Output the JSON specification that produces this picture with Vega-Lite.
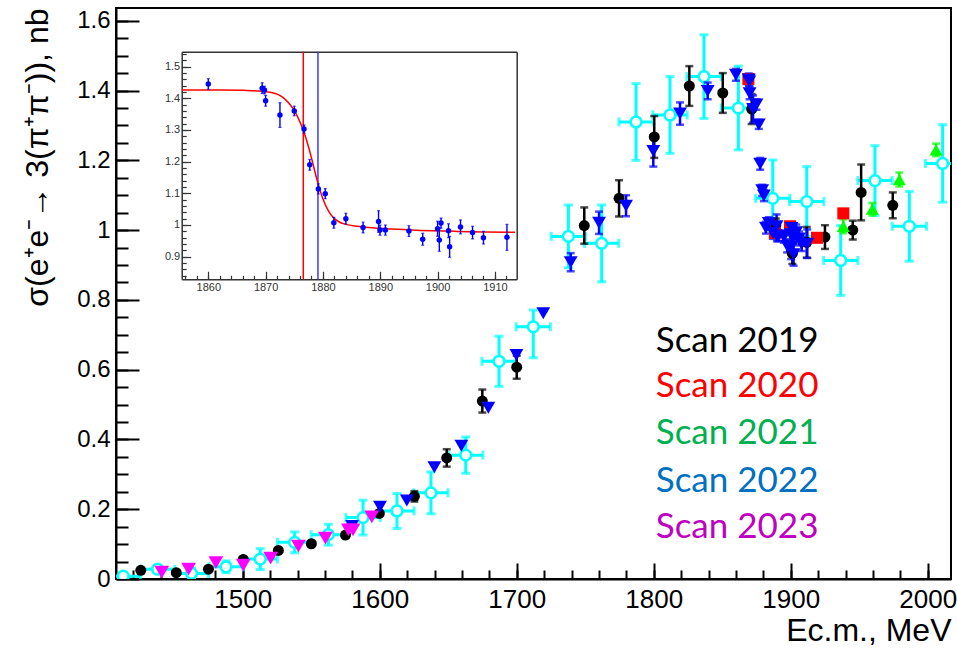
{
  "$schema": "https://vega.github.io/schema/vega-lite/v6.json",
  "width": 835,
  "height": 571,
  "autosize": {"type": "none"},
  "padding": {"left": 116, "top": 8, "right": 6, "bottom": 74},
  "background": "white",
  "config": {
    "view": {"stroke": "#000000", "strokeWidth": 2},
    "axis": {"labelFont": "Liberation Sans", "titleFont": "Liberation Sans", "grid": false, "labelFlush": false, "labelOverlap": false}
  },
  "datasets": {
    "cyan": [
      {"x": 1412.8, "y": 0.008, "ylo": -0.002, "yhi": 0.018, "xlo": 1400.3, "xhi": 1425.3},
      {"x": 1437.9, "y": 0.028, "ylo": 0.018, "yhi": 0.038, "xlo": 1425.4, "xhi": 1450.4},
      {"x": 1462.6, "y": 0.016, "ylo": 0.001, "yhi": 0.031, "xlo": 1450.1, "xhi": 1475.1},
      {"x": 1487.8, "y": 0.035, "ylo": 0.018, "yhi": 0.052, "xlo": 1475.3, "xhi": 1500.3},
      {"x": 1512.8, "y": 0.057, "ylo": 0.027, "yhi": 0.087, "xlo": 1500.3, "xhi": 1525.3},
      {"x": 1537.9, "y": 0.105, "ylo": 0.075, "yhi": 0.135, "xlo": 1525.4, "xhi": 1550.4},
      {"x": 1562.5, "y": 0.127, "ylo": 0.097, "yhi": 0.157, "xlo": 1550.0, "xhi": 1575.0},
      {"x": 1587.8, "y": 0.176, "ylo": 0.126, "yhi": 0.226, "xlo": 1575.3, "xhi": 1600.3},
      {"x": 1612.6, "y": 0.195, "ylo": 0.145, "yhi": 0.245, "xlo": 1600.1, "xhi": 1625.1},
      {"x": 1637.4, "y": 0.247, "ylo": 0.187, "yhi": 0.307, "xlo": 1624.9, "xhi": 1649.9},
      {"x": 1662.8, "y": 0.355, "ylo": 0.303, "yhi": 0.407, "xlo": 1650.3, "xhi": 1675.3},
      {"x": 1687.1, "y": 0.624, "ylo": 0.552, "yhi": 0.696, "xlo": 1674.6, "xhi": 1699.6},
      {"x": 1712.1, "y": 0.723, "ylo": 0.634, "yhi": 0.771, "xlo": 1699.6, "xhi": 1724.6},
      {"x": 1737.7, "y": 0.982, "ylo": 0.892, "yhi": 1.072, "xlo": 1725.2, "xhi": 1750.2},
      {"x": 1762.0, "y": 0.962, "ylo": 0.852, "yhi": 1.072, "xlo": 1749.5, "xhi": 1774.5},
      {"x": 1787.1, "y": 1.310, "ylo": 1.200, "yhi": 1.420, "xlo": 1774.6, "xhi": 1799.6},
      {"x": 1811.9, "y": 1.330, "ylo": 1.220, "yhi": 1.440, "xlo": 1799.4, "xhi": 1824.4},
      {"x": 1836.7, "y": 1.440, "ylo": 1.320, "yhi": 1.560, "xlo": 1824.2, "xhi": 1849.2},
      {"x": 1861.8, "y": 1.350, "ylo": 1.230, "yhi": 1.470, "xlo": 1849.3, "xhi": 1874.3},
      {"x": 1886.9, "y": 1.091, "ylo": 0.981, "yhi": 1.201, "xlo": 1874.4, "xhi": 1899.4},
      {"x": 1911.7, "y": 1.082, "ylo": 0.982, "yhi": 1.182, "xlo": 1899.2, "xhi": 1924.2},
      {"x": 1936.5, "y": 0.913, "ylo": 0.813, "yhi": 1.013, "xlo": 1924.0, "xhi": 1949.0},
      {"x": 1961.5, "y": 1.142, "ylo": 1.042, "yhi": 1.242, "xlo": 1949.0, "xhi": 1974.0},
      {"x": 1986.6, "y": 1.011, "ylo": 0.911, "yhi": 1.111, "xlo": 1974.1, "xhi": 1999.1},
      {"x": 2010.9, "y": 1.191, "ylo": 1.080, "yhi": 1.302, "xlo": 1998.4, "xhi": 2023.4}
    ],
    "pts": [
      {"s": "2019", "x": 1425.6, "y": 0.025},
      {"s": "2019", "x": 1451.5, "y": 0.018},
      {"s": "2019", "x": 1475.0, "y": 0.028},
      {"s": "2019", "x": 1500.4, "y": 0.056},
      {"s": "2019", "x": 1526.0, "y": 0.082},
      {"s": "2019", "x": 1550.1, "y": 0.101},
      {"s": "2019", "x": 1575.0, "y": 0.126},
      {"s": "2019", "x": 1599.7, "y": 0.188},
      {"s": "2019", "x": 1625.3, "y": 0.237, "lo": 0.222, "hi": 0.252},
      {"s": "2019", "x": 1648.9, "y": 0.347, "lo": 0.322, "hi": 0.372},
      {"s": "2019", "x": 1674.9, "y": 0.510, "lo": 0.477, "hi": 0.543},
      {"s": "2019", "x": 1700.0, "y": 0.607, "lo": 0.574, "hi": 0.640},
      {"s": "2019", "x": 1749.3, "y": 1.013, "lo": 0.961, "hi": 1.065},
      {"s": "2019", "x": 1774.7, "y": 1.091, "lo": 1.039, "hi": 1.143},
      {"s": "2019", "x": 1800.4, "y": 1.267, "lo": 1.207, "hi": 1.327},
      {"s": "2019", "x": 1826.0, "y": 1.413, "lo": 1.356, "hi": 1.470},
      {"s": "2019", "x": 1850.4, "y": 1.393, "lo": 1.336, "hi": 1.450},
      {"s": "2019", "x": 1871.5, "y": 1.347, "lo": 1.304, "hi": 1.390},
      {"s": "2019", "x": 1889.1, "y": 1.013, "lo": 0.993, "hi": 1.033},
      {"s": "2019", "x": 1901.2, "y": 0.933, "lo": 0.903, "hi": 0.963},
      {"s": "2019", "x": 1911.7, "y": 0.965, "lo": 0.921, "hi": 1.009},
      {"s": "2019", "x": 1925.0, "y": 0.980, "lo": 0.946, "hi": 1.014},
      {"s": "2019", "x": 1945.3, "y": 1.000, "lo": 0.973, "hi": 1.027},
      {"s": "2019", "x": 1951.4, "y": 1.108, "lo": 1.028, "hi": 1.188},
      {"s": "2019", "x": 1974.5, "y": 1.071, "lo": 1.034, "hi": 1.108},
      {"s": "2020", "x": 1869.1, "y": 1.433},
      {"s": "2020", "x": 1888.5, "y": 0.992},
      {"s": "2020", "x": 1899.5, "y": 1.011},
      {"s": "2020", "x": 1919.2, "y": 0.978},
      {"s": "2020", "x": 1938.4, "y": 1.048},
      {"s": "2021", "x": 1938.4, "y": 1.011, "lo": 0.991, "hi": 1.031},
      {"s": "2021", "x": 1959.6, "y": 1.060, "lo": 1.042, "hi": 1.078},
      {"s": "2021", "x": 1979.3, "y": 1.145, "lo": 1.125, "hi": 1.165},
      {"s": "2021", "x": 2006.1, "y": 1.230, "lo": 1.212, "hi": 1.248},
      {"s": "2022", "x": 1579.8, "y": 0.152},
      {"s": "2022", "x": 1600.2, "y": 0.207},
      {"s": "2022", "x": 1619.8, "y": 0.225},
      {"s": "2022", "x": 1639.9, "y": 0.320},
      {"s": "2022", "x": 1659.6, "y": 0.382},
      {"s": "2022", "x": 1679.3, "y": 0.491},
      {"s": "2022", "x": 1699.8, "y": 0.642},
      {"s": "2022", "x": 1719.4, "y": 0.762},
      {"s": "2022", "x": 1739.4, "y": 0.908, "lo": 0.882, "hi": 0.934},
      {"s": "2022", "x": 1760.1, "y": 1.021, "lo": 0.989, "hi": 1.053},
      {"s": "2022", "x": 1779.8, "y": 1.070, "lo": 1.040, "hi": 1.100},
      {"s": "2022", "x": 1799.7, "y": 1.227, "lo": 1.182, "hi": 1.272},
      {"s": "2022", "x": 1819.2, "y": 1.334, "lo": 1.302, "hi": 1.366},
      {"s": "2022", "x": 1839.4, "y": 1.399, "lo": 1.375, "hi": 1.423},
      {"s": "2022", "x": 1860.0, "y": 1.445, "lo": 1.428, "hi": 1.462},
      {"s": "2022", "x": 1869.4, "y": 1.432, "lo": 1.415, "hi": 1.449},
      {"s": "2022", "x": 1869.8, "y": 1.426, "lo": 1.414, "hi": 1.438},
      {"s": "2022", "x": 1870.0, "y": 1.392, "lo": 1.375, "hi": 1.409},
      {"s": "2022", "x": 1872.5, "y": 1.347, "lo": 1.308, "hi": 1.386},
      {"s": "2022", "x": 1875.0, "y": 1.360, "lo": 1.345, "hi": 1.375},
      {"s": "2022", "x": 1876.7, "y": 1.303, "lo": 1.290, "hi": 1.316},
      {"s": "2022", "x": 1877.7, "y": 1.190, "lo": 1.173, "hi": 1.207},
      {"s": "2022", "x": 1879.2, "y": 1.114, "lo": 1.098, "hi": 1.130},
      {"s": "2022", "x": 1880.4, "y": 1.099, "lo": 1.083, "hi": 1.115},
      {"s": "2022", "x": 1881.9, "y": 1.007, "lo": 0.990, "hi": 1.024},
      {"s": "2022", "x": 1884.0, "y": 1.020, "lo": 1.003, "hi": 1.037},
      {"s": "2022", "x": 1887.0, "y": 0.992, "lo": 0.975, "hi": 1.009},
      {"s": "2022", "x": 1889.7, "y": 1.011, "lo": 0.977, "hi": 1.045},
      {"s": "2022", "x": 1889.95, "y": 0.984, "lo": 0.968, "hi": 1.000},
      {"s": "2022", "x": 1890.9, "y": 0.984, "lo": 0.968, "hi": 1.000},
      {"s": "2022", "x": 1895.0, "y": 0.981, "lo": 0.964, "hi": 0.998},
      {"s": "2022", "x": 1897.4, "y": 0.955, "lo": 0.936, "hi": 0.974},
      {"s": "2022", "x": 1900.0, "y": 0.988, "lo": 0.964, "hi": 1.012},
      {"s": "2022", "x": 1900.3, "y": 0.953, "lo": 0.917, "hi": 0.989},
      {"s": "2022", "x": 1900.6, "y": 1.006, "lo": 0.990, "hi": 1.022},
      {"s": "2022", "x": 1901.9, "y": 0.982, "lo": 0.960, "hi": 1.004},
      {"s": "2022", "x": 1902.1, "y": 0.931, "lo": 0.898, "hi": 0.964},
      {"s": "2022", "x": 1904.0, "y": 0.994, "lo": 0.972, "hi": 1.016},
      {"s": "2022", "x": 1906.1, "y": 0.976, "lo": 0.956, "hi": 0.996},
      {"s": "2022", "x": 1908.0, "y": 0.960, "lo": 0.940, "hi": 0.980},
      {"s": "2022", "x": 1912.1, "y": 0.961, "lo": 0.920, "hi": 1.002},
      {"s": "2023", "x": 1440.9, "y": 0.020},
      {"s": "2023", "x": 1460.5, "y": 0.028},
      {"s": "2023", "x": 1480.4, "y": 0.047},
      {"s": "2023", "x": 1500.4, "y": 0.040},
      {"s": "2023", "x": 1520.4, "y": 0.060},
      {"s": "2023", "x": 1540.6, "y": 0.094},
      {"s": "2023", "x": 1560.4, "y": 0.117},
      {"s": "2023", "x": 1577.1, "y": 0.141},
      {"s": "2023", "x": 1580.5, "y": 0.141},
      {"s": "2023", "x": 1594.2, "y": 0.178}
    ],
    "ins": [
      {"x": 1860.0, "y": 1.445, "lo": 1.428, "hi": 1.462},
      {"x": 1869.4, "y": 1.432, "lo": 1.415, "hi": 1.449},
      {"x": 1869.8, "y": 1.426, "lo": 1.414, "hi": 1.438},
      {"x": 1870.0, "y": 1.392, "lo": 1.375, "hi": 1.409},
      {"x": 1872.5, "y": 1.347, "lo": 1.308, "hi": 1.386},
      {"x": 1875.0, "y": 1.360, "lo": 1.345, "hi": 1.375},
      {"x": 1876.7, "y": 1.303, "lo": 1.290, "hi": 1.316},
      {"x": 1877.7, "y": 1.190, "lo": 1.173, "hi": 1.207},
      {"x": 1879.2, "y": 1.114, "lo": 1.098, "hi": 1.130},
      {"x": 1880.4, "y": 1.099, "lo": 1.083, "hi": 1.115},
      {"x": 1881.9, "y": 1.007, "lo": 0.990, "hi": 1.024},
      {"x": 1884.0, "y": 1.020, "lo": 1.003, "hi": 1.037},
      {"x": 1887.0, "y": 0.992, "lo": 0.975, "hi": 1.009},
      {"x": 1889.7, "y": 1.011, "lo": 0.977, "hi": 1.045},
      {"x": 1889.95, "y": 0.984, "lo": 0.968, "hi": 1.000},
      {"x": 1890.9, "y": 0.984, "lo": 0.968, "hi": 1.000},
      {"x": 1895.0, "y": 0.981, "lo": 0.964, "hi": 0.998},
      {"x": 1897.4, "y": 0.955, "lo": 0.936, "hi": 0.974},
      {"x": 1900.0, "y": 0.988, "lo": 0.964, "hi": 1.012},
      {"x": 1900.3, "y": 0.953, "lo": 0.917, "hi": 0.989},
      {"x": 1900.6, "y": 1.006, "lo": 0.990, "hi": 1.022},
      {"x": 1901.9, "y": 0.982, "lo": 0.960, "hi": 1.004},
      {"x": 1902.1, "y": 0.931, "lo": 0.898, "hi": 0.964},
      {"x": 1904.0, "y": 0.994, "lo": 0.972, "hi": 1.016},
      {"x": 1906.1, "y": 0.976, "lo": 0.956, "hi": 0.996},
      {"x": 1908.0, "y": 0.960, "lo": 0.940, "hi": 0.980},
      {"x": 1912.1, "y": 0.961, "lo": 0.920, "hi": 1.002}
    ],
    "curve": [
      {"x": 1855.4, "y": 1.426}, {"x": 1862, "y": 1.426}, {"x": 1866, "y": 1.425}, {"x": 1869, "y": 1.423},
      {"x": 1871, "y": 1.418}, {"x": 1872, "y": 1.413}, {"x": 1873, "y": 1.403}, {"x": 1874, "y": 1.386},
      {"x": 1875, "y": 1.361}, {"x": 1876, "y": 1.325}, {"x": 1877, "y": 1.276}, {"x": 1878, "y": 1.212},
      {"x": 1879, "y": 1.140}, {"x": 1880, "y": 1.082}, {"x": 1881, "y": 1.043}, {"x": 1882, "y": 1.020},
      {"x": 1883, "y": 1.008}, {"x": 1884, "y": 1.002}, {"x": 1886, "y": 0.996}, {"x": 1888, "y": 0.992},
      {"x": 1892, "y": 0.987}, {"x": 1897, "y": 0.983}, {"x": 1903, "y": 0.980}, {"x": 1908, "y": 0.978},
      {"x": 1913.5, "y": 0.977}
    ],
    "leg": [
      {"lab": "Scan 2019", "x": 1801.5, "y": 0.6495},
      {"lab": "Scan 2020", "x": 1801.5, "y": 0.5207},
      {"lab": "Scan 2021", "x": 1801.5, "y": 0.3877},
      {"lab": "Scan 2022", "x": 1801.5, "y": 0.2504},
      {"lab": "Scan 2023", "x": 1801.5, "y": 0.1173}
    ]
  },
  "layer": [
    {
      "layer": [
        {
          "data": {"name": "pts"},
          "mark": {"type": "point", "opacity": 0},
          "encoding": {
            "x": {"field": "x", "type": "quantitative", "scale": {"domain": [1407.5, 2017], "nice": false, "zero": false},
              "axis": {"orient": "bottom", "values": [1500, 1600, 1700, 1800, 1900, 2000], "format": "d", "tickSize": -16, "tickWidth": 2, "tickColor": "#000000", "domainColor": "#000000", "domainWidth": 2, "labelFontSize": 26, "labelColor": "#000000", "labelPadding": 23, "title": "Ec.m., MeV", "titleFontSize": 32, "titleFontWeight": "normal", "titleColor": "#000000", "titleAnchor": "end", "titlePadding": 3}},
            "y": {"field": "y", "type": "quantitative", "scale": {"domain": [0, 1.6366], "nice": false, "zero": false},
              "axis": {"orient": "left", "values": [0, 0.2, 0.4, 0.6, 0.8, 1, 1.2, 1.4, 1.6], "format": "~g", "tickSize": -23, "tickWidth": 2, "tickColor": "#000000", "domainColor": "#000000", "domainWidth": 2, "labelFontSize": 24, "labelColor": "#000000", "labelPadding": 29, "title": "σ(e⁺e⁻→ 3(π⁺π⁻)), nb", "titleFontSize": 32, "titleFontWeight": "normal", "titleColor": "#000000", "titleAnchor": "end", "titlePadding": 22}}
          }
        },
        {
          "data": {"name": "pts"},
          "mark": {"type": "point", "opacity": 0},
          "encoding": {
            "x": {"field": "x", "type": "quantitative", "scale": {"domain": [1407.5, 2017], "nice": false, "zero": false},
              "axis": {"orient": "bottom", "values": [1420, 1440, 1460, 1480, 1500, 1520, 1540, 1560, 1580, 1600, 1620, 1640, 1660, 1680, 1700, 1720, 1740, 1760, 1780, 1800, 1820, 1840, 1860, 1880, 1900, 1920, 1940, 1960, 1980, 2000], "tickSize": -9, "tickWidth": 2, "tickColor": "#000000", "domain": false, "labels": false, "title": null}},
            "y": {"field": "y", "type": "quantitative", "scale": {"domain": [0, 1.6366], "nice": false, "zero": false},
              "axis": {"orient": "left", "values": [0.05, 0.1, 0.15, 0.2, 0.25, 0.3, 0.35, 0.4, 0.45, 0.5, 0.55, 0.6, 0.65, 0.7, 0.75, 0.8, 0.85, 0.9, 0.95, 1, 1.05, 1.1, 1.15, 1.2, 1.25, 1.3, 1.35, 1.4, 1.45, 1.5, 1.55, 1.6], "tickSize": -12, "tickWidth": 2, "tickColor": "#000000", "domain": false, "labels": false, "title": null}}
          }
        },
        {
          "data": {"name": "cyan"},
          "mark": {"type": "rule", "stroke": "#00ffff", "strokeWidth": 3, "clip": true},
          "encoding": {
            "x": {"field": "x", "type": "quantitative", "scale": {"domain": [1407.5, 2017], "nice": false, "zero": false}, "axis": null},
            "y": {"field": "ylo", "type": "quantitative", "scale": {"domain": [0, 1.6366], "nice": false, "zero": false}, "axis": null},
            "y2": {"field": "yhi"}
          }
        },
        {
          "data": {"name": "cyan"},
          "mark": {"type": "rule", "stroke": "#00ffff", "strokeWidth": 3, "clip": true},
          "encoding": {
            "x": {"field": "xlo", "type": "quantitative", "scale": {"domain": [1407.5, 2017], "nice": false, "zero": false}, "axis": null},
            "x2": {"field": "xhi"},
            "y": {"field": "y", "type": "quantitative", "scale": {"domain": [0, 1.6366], "nice": false, "zero": false}, "axis": null}
          }
        },
        {
          "data": {"name": "cyan"},
          "mark": {"type": "tick", "orient": "horizontal", "size": 9, "thickness": 3, "color": "#00ffff", "clip": true},
          "encoding": {
            "x": {"field": "x", "type": "quantitative", "scale": {"domain": [1407.5, 2017], "nice": false, "zero": false}, "axis": null},
            "y": {"field": "ylo", "type": "quantitative", "scale": {"domain": [0, 1.6366], "nice": false, "zero": false}, "axis": null}
          }
        },
        {
          "data": {"name": "cyan"},
          "mark": {"type": "tick", "orient": "horizontal", "size": 9, "thickness": 3, "color": "#00ffff", "clip": true},
          "encoding": {
            "x": {"field": "x", "type": "quantitative", "scale": {"domain": [1407.5, 2017], "nice": false, "zero": false}, "axis": null},
            "y": {"field": "yhi", "type": "quantitative", "scale": {"domain": [0, 1.6366], "nice": false, "zero": false}, "axis": null}
          }
        },
        {
          "data": {"name": "cyan"},
          "mark": {"type": "tick", "orient": "vertical", "size": 9, "thickness": 3, "color": "#00ffff", "clip": true},
          "encoding": {
            "x": {"field": "xlo", "type": "quantitative", "scale": {"domain": [1407.5, 2017], "nice": false, "zero": false}, "axis": null},
            "y": {"field": "y", "type": "quantitative", "scale": {"domain": [0, 1.6366], "nice": false, "zero": false}, "axis": null}
          }
        },
        {
          "data": {"name": "cyan"},
          "mark": {"type": "tick", "orient": "vertical", "size": 9, "thickness": 3, "color": "#00ffff", "clip": true},
          "encoding": {
            "x": {"field": "xhi", "type": "quantitative", "scale": {"domain": [1407.5, 2017], "nice": false, "zero": false}, "axis": null},
            "y": {"field": "y", "type": "quantitative", "scale": {"domain": [0, 1.6366], "nice": false, "zero": false}, "axis": null}
          }
        },
        {
          "data": {"name": "cyan"},
          "mark": {"type": "point", "filled": true, "fill": "#ffffff", "stroke": "#00ffff", "strokeWidth": 2.5, "size": 115, "opacity": 1, "clip": true},
          "encoding": {
            "x": {"field": "x", "type": "quantitative", "scale": {"domain": [1407.5, 2017], "nice": false, "zero": false}, "axis": null},
            "y": {"field": "y", "type": "quantitative", "scale": {"domain": [0, 1.6366], "nice": false, "zero": false}, "axis": null}
          }
        },
        {
          "data": {"name": "pts"},
          "transform": [{"filter": "isValid(datum.lo)"}],
          "mark": {"type": "rule", "strokeWidth": 2.5, "clip": true},
          "encoding": {
            "x": {"field": "x", "type": "quantitative", "scale": {"domain": [1407.5, 2017], "nice": false, "zero": false}, "axis": null},
            "y": {"field": "lo", "type": "quantitative", "scale": {"domain": [0, 1.6366], "nice": false, "zero": false}, "axis": null},
            "y2": {"field": "hi"},
            "stroke": {"field": "s", "type": "nominal", "scale": {"domain": ["2019", "2020", "2021", "2022", "2023"], "range": ["#000000", "#ff0000", "#00ff00", "#0000ff", "#ff00ff"]}, "legend": null}
          }
        },
        {
          "data": {"name": "pts"},
          "transform": [{"filter": "isValid(datum.lo)"}],
          "mark": {"type": "tick", "orient": "horizontal", "size": 8, "thickness": 2.5, "clip": true},
          "encoding": {
            "x": {"field": "x", "type": "quantitative", "scale": {"domain": [1407.5, 2017], "nice": false, "zero": false}, "axis": null},
            "y": {"field": "lo", "type": "quantitative", "scale": {"domain": [0, 1.6366], "nice": false, "zero": false}, "axis": null},
            "fill": {"field": "s", "type": "nominal", "scale": {"domain": ["2019", "2020", "2021", "2022", "2023"], "range": ["#000000", "#ff0000", "#00ff00", "#0000ff", "#ff00ff"]}, "legend": null}
          }
        },
        {
          "data": {"name": "pts"},
          "transform": [{"filter": "isValid(datum.lo)"}],
          "mark": {"type": "tick", "orient": "horizontal", "size": 8, "thickness": 2.5, "clip": true},
          "encoding": {
            "x": {"field": "x", "type": "quantitative", "scale": {"domain": [1407.5, 2017], "nice": false, "zero": false}, "axis": null},
            "y": {"field": "hi", "type": "quantitative", "scale": {"domain": [0, 1.6366], "nice": false, "zero": false}, "axis": null},
            "fill": {"field": "s", "type": "nominal", "scale": {"domain": ["2019", "2020", "2021", "2022", "2023"], "range": ["#000000", "#ff0000", "#00ff00", "#0000ff", "#ff00ff"]}, "legend": null}
          }
        },
        {
          "data": {"name": "pts"},
          "mark": {"type": "point", "filled": true, "opacity": 1, "strokeWidth": 0, "clip": true},
          "encoding": {
            "x": {"field": "x", "type": "quantitative", "scale": {"domain": [1407.5, 2017], "nice": false, "zero": false}, "axis": null},
            "y": {"field": "y", "type": "quantitative", "scale": {"domain": [0, 1.6366], "nice": false, "zero": false}, "axis": null},
            "fill": {"field": "s", "type": "nominal", "scale": {"domain": ["2019", "2020", "2021", "2022", "2023"], "range": ["#000000", "#ff0000", "#00ff00", "#0000ff", "#ff00ff"]}, "legend": null},
            "shape": {"field": "s", "type": "nominal", "scale": {"domain": ["2019", "2020", "2021", "2022", "2023"], "range": ["circle", "square", "triangle-up", "triangle-down", "triangle-down"]}, "legend": null},
            "size": {"field": "s", "type": "ordinal", "scale": {"domain": ["2019", "2020", "2021", "2022", "2023"], "range": [121, 216, 185, 169, 169]}, "legend": null}
          }
        },
        {
          "data": {"name": "leg"},
          "mark": {"type": "text", "align": "left", "baseline": "alphabetic", "font": "Lato", "fontSize": 35},
          "encoding": {
            "x": {"field": "x", "type": "quantitative", "scale": {"domain": [1407.5, 2017], "nice": false, "zero": false}, "axis": null},
            "y": {"field": "y", "type": "quantitative", "scale": {"domain": [0, 1.6366], "nice": false, "zero": false}, "axis": null},
            "text": {"field": "lab"},
            "color": {"field": "lab", "type": "nominal", "scale": {"domain": ["Scan 2019", "Scan 2020", "Scan 2021", "Scan 2022", "Scan 2023"], "range": ["#000000", "#ff0000", "#00b050", "#0070c0", "#c000c0"]}, "legend": null}
          }
        }
      ],
      "resolve": {"axis": {"x": "independent", "y": "independent"}}
    },
    {
      "layer": [
        {
          "data": {"name": "ins"},
          "mark": {"type": "point", "opacity": 0},
          "encoding": {
            "x": {"field": "x", "type": "quantitative", "scale": {"domain": [1855.36, 1913.8], "range": [65.7, 400.7], "nice": false, "zero": false},
              "axis": {"orient": "bottom", "offset": -299.7, "values": [1860, 1870, 1880, 1890, 1900, 1910], "format": "d", "tickSize": -8, "tickWidth": 1.2, "tickColor": "#333333", "domainColor": "#333333", "domainWidth": 1.5, "labelFontSize": 11, "labelColor": "#333333", "labelPadding": 10, "title": null}},
            "y": {"field": "y", "type": "quantitative", "scale": {"domain": [0.8286, 1.547], "range": [271.3, 43.7], "nice": false, "zero": false},
              "axis": {"orient": "left", "offset": -65.7, "values": [0.9, 1, 1.1, 1.2, 1.3, 1.4, 1.5], "format": "~g", "tickSize": -9, "tickWidth": 1.2, "tickColor": "#333333", "domainColor": "#333333", "domainWidth": 1.5, "labelFontSize": 11, "labelColor": "#333333", "labelPadding": 11, "title": null}}
          }
        },
        {
          "data": {"name": "ins"},
          "mark": {"type": "point", "opacity": 0},
          "encoding": {
            "x": {"field": "x", "type": "quantitative", "scale": {"domain": [1855.36, 1913.8], "range": [65.7, 400.7], "nice": false, "zero": false},
              "axis": {"orient": "bottom", "offset": -299.7, "values": [1856, 1858, 1860, 1862, 1864, 1866, 1868, 1870, 1872, 1874, 1876, 1878, 1880, 1882, 1884, 1886, 1888, 1890, 1892, 1894, 1896, 1898, 1900, 1902, 1904, 1906, 1908, 1910, 1912], "tickSize": -4, "tickWidth": 1.2, "tickColor": "#333333", "domain": false, "labels": false, "title": null}},
            "y": {"field": "y", "type": "quantitative", "scale": {"domain": [0.8286, 1.547], "range": [271.3, 43.7], "nice": false, "zero": false},
              "axis": {"orient": "left", "offset": -65.7, "values": [0.84, 0.86, 0.88, 0.9, 0.92, 0.94, 0.96, 0.98, 1, 1.02, 1.04, 1.06, 1.08, 1.1, 1.12, 1.14, 1.16, 1.18, 1.2, 1.22, 1.24, 1.26, 1.28, 1.3, 1.32, 1.34, 1.36, 1.38, 1.4, 1.42, 1.44, 1.46, 1.48, 1.5, 1.52, 1.54], "tickSize": -4.5, "tickWidth": 1.2, "tickColor": "#333333", "domain": false, "labels": false, "title": null}}
          }
        },
        {
          "data": {"name": "ins"},
          "mark": {"type": "point", "opacity": 0},
          "encoding": {
            "x": {"field": "x", "type": "quantitative", "scale": {"domain": [1855.36, 1913.8], "range": [65.7, 400.7], "nice": false, "zero": false},
              "axis": {"orient": "top", "offset": -43.7, "ticks": false, "labels": false, "domainColor": "#333333", "domainWidth": 1.5, "title": null}},
            "y": {"field": "y", "type": "quantitative", "scale": {"domain": [0.8286, 1.547], "range": [271.3, 43.7], "nice": false, "zero": false},
              "axis": {"orient": "right", "offset": -434.3, "ticks": false, "labels": false, "domainColor": "#333333", "domainWidth": 1.5, "title": null}}
          }
        },
        {
          "data": {"values": [{"x": 1876.57}]},
          "mark": {"type": "rule", "stroke": "#ff0000", "strokeWidth": 1.5},
          "encoding": {
            "x": {"field": "x", "type": "quantitative", "scale": {"domain": [1855.36, 1913.8], "range": [65.7, 400.7], "nice": false, "zero": false}, "axis": null},
            "y": {"datum": 0.8286, "type": "quantitative", "scale": {"domain": [0.8286, 1.547], "range": [271.3, 43.7], "nice": false, "zero": false}, "axis": null},
            "y2": {"datum": 1.547}
          }
        },
        {
          "data": {"values": [{"x": 1879.13}]},
          "mark": {"type": "rule", "stroke": "#3a3aff", "strokeWidth": 1.5},
          "encoding": {
            "x": {"field": "x", "type": "quantitative", "scale": {"domain": [1855.36, 1913.8], "range": [65.7, 400.7], "nice": false, "zero": false}, "axis": null},
            "y": {"datum": 0.8286, "type": "quantitative", "scale": {"domain": [0.8286, 1.547], "range": [271.3, 43.7], "nice": false, "zero": false}, "axis": null},
            "y2": {"datum": 1.547}
          }
        },
        {
          "data": {"name": "curve"},
          "mark": {"type": "line", "stroke": "#ff0000", "strokeWidth": 1.5, "interpolate": "monotone"},
          "encoding": {
            "x": {"field": "x", "type": "quantitative", "scale": {"domain": [1855.36, 1913.8], "range": [65.7, 400.7], "nice": false, "zero": false}, "axis": null},
            "y": {"field": "y", "type": "quantitative", "scale": {"domain": [0.8286, 1.547], "range": [271.3, 43.7], "nice": false, "zero": false}, "axis": null}
          }
        },
        {
          "data": {"name": "ins"},
          "mark": {"type": "rule", "stroke": "#0000ff", "strokeWidth": 1.4},
          "encoding": {
            "x": {"field": "x", "type": "quantitative", "scale": {"domain": [1855.36, 1913.8], "range": [65.7, 400.7], "nice": false, "zero": false}, "axis": null},
            "y": {"field": "lo", "type": "quantitative", "scale": {"domain": [0.8286, 1.547], "range": [271.3, 43.7], "nice": false, "zero": false}, "axis": null},
            "y2": {"field": "hi"}
          }
        },
        {
          "data": {"name": "ins"},
          "mark": {"type": "tick", "orient": "horizontal", "size": 3, "thickness": 1.2, "color": "#0000ff"},
          "encoding": {
            "x": {"field": "x", "type": "quantitative", "scale": {"domain": [1855.36, 1913.8], "range": [65.7, 400.7], "nice": false, "zero": false}, "axis": null},
            "y": {"field": "lo", "type": "quantitative", "scale": {"domain": [0.8286, 1.547], "range": [271.3, 43.7], "nice": false, "zero": false}, "axis": null}
          }
        },
        {
          "data": {"name": "ins"},
          "mark": {"type": "tick", "orient": "horizontal", "size": 3, "thickness": 1.2, "color": "#0000ff"},
          "encoding": {
            "x": {"field": "x", "type": "quantitative", "scale": {"domain": [1855.36, 1913.8], "range": [65.7, 400.7], "nice": false, "zero": false}, "axis": null},
            "y": {"field": "hi", "type": "quantitative", "scale": {"domain": [0.8286, 1.547], "range": [271.3, 43.7], "nice": false, "zero": false}, "axis": null}
          }
        },
        {
          "data": {"name": "ins"},
          "mark": {"type": "point", "filled": true, "fill": "#0000ff", "opacity": 1, "size": 30, "strokeWidth": 0},
          "encoding": {
            "x": {"field": "x", "type": "quantitative", "scale": {"domain": [1855.36, 1913.8], "range": [65.7, 400.7], "nice": false, "zero": false}, "axis": null},
            "y": {"field": "y", "type": "quantitative", "scale": {"domain": [0.8286, 1.547], "range": [271.3, 43.7], "nice": false, "zero": false}, "axis": null}
          }
        }
      ],
      "resolve": {"axis": {"x": "independent", "y": "independent"}}
    }
  ],
  "resolve": {"scale": {"x": "independent", "y": "independent"}}
}
